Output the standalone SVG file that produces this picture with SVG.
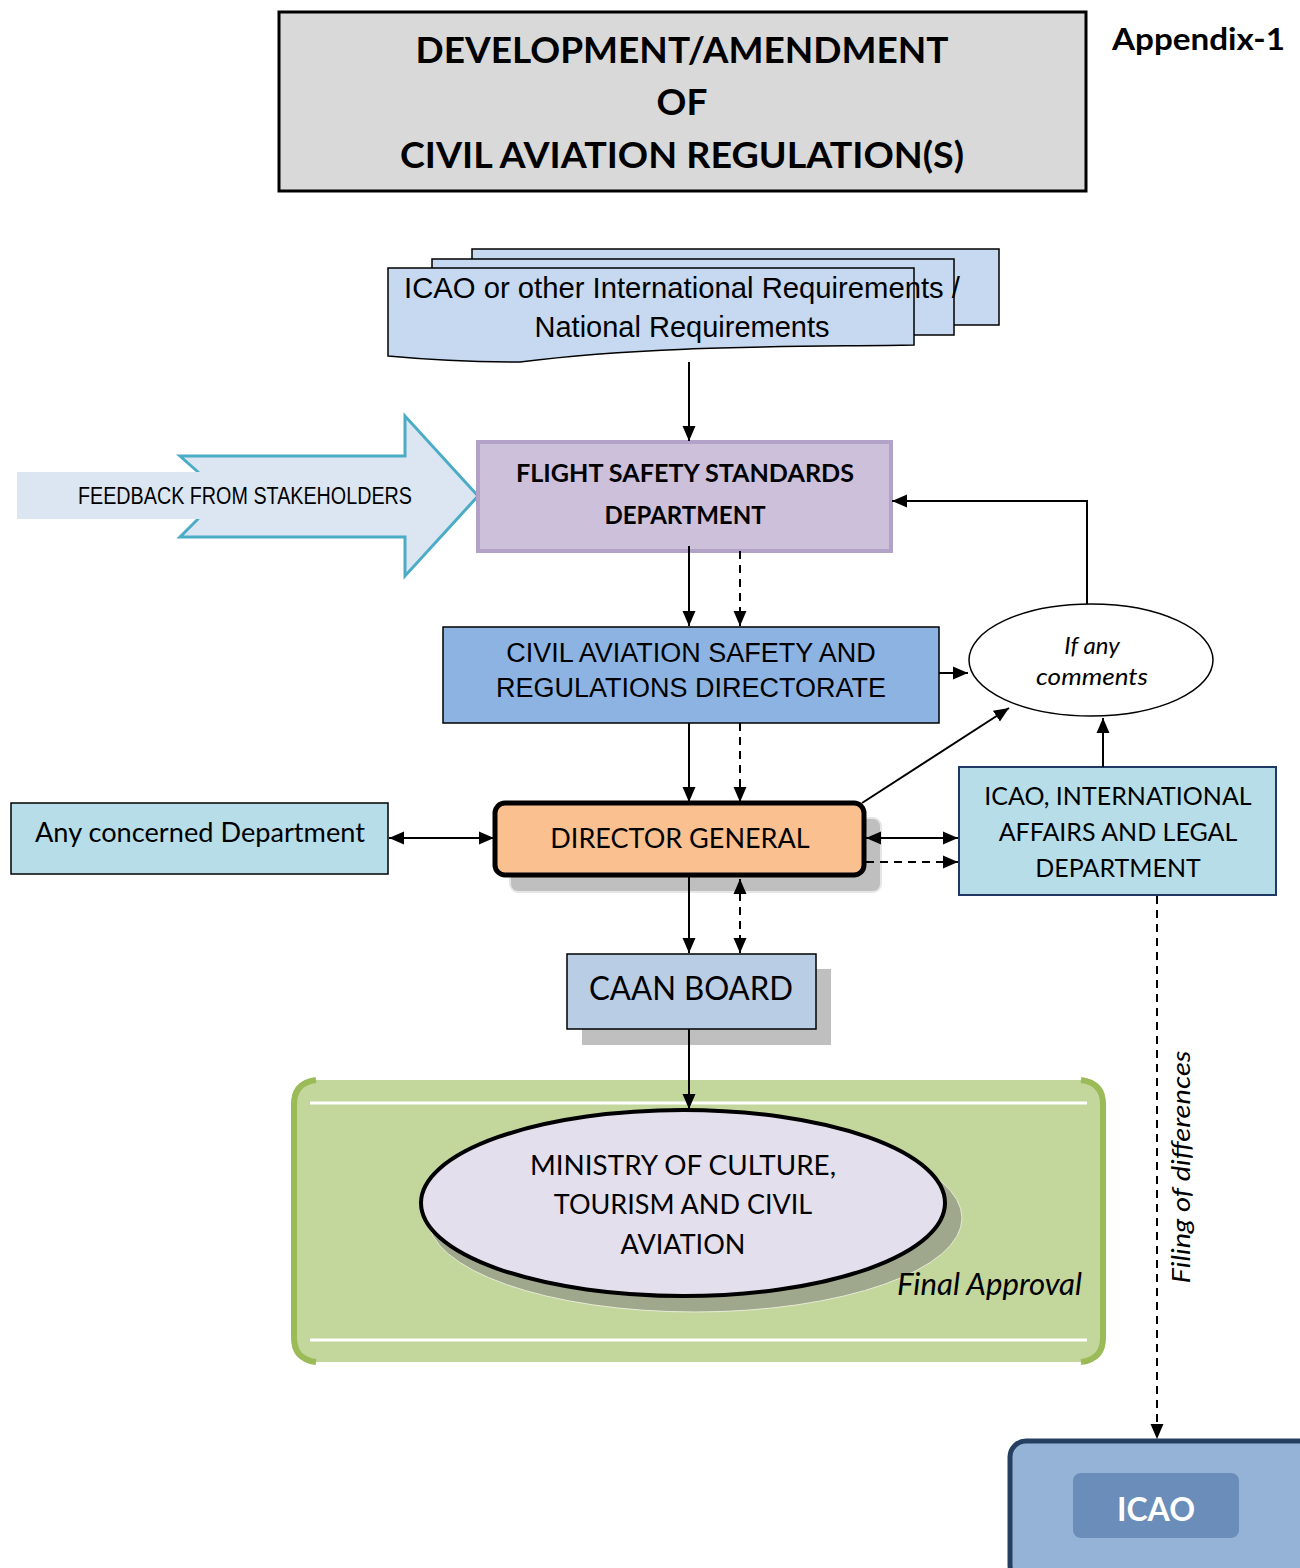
<svg xmlns="http://www.w3.org/2000/svg" width="1300" height="1568" viewBox="0 0 1300 1568">
<defs>
<marker id="ah" markerUnits="userSpaceOnUse" markerWidth="16" markerHeight="16" viewBox="0 0 16 16" refX="15" refY="8" orient="auto-start-reverse">
<path d="M0,1.5 L15,8 L0,14.5 Z" fill="#000"/>
</marker>
<style>
.cal{font-family:Lato,"Open Sans","DejaVu Sans",sans-serif;}
.ari{font-family:"Liberation Sans",Arial,sans-serif;}
.ln{stroke:#000;stroke-width:2;fill:none;}
.ds{stroke-dasharray:8,6;}
</style>
</defs>
<rect width="1300" height="1568" fill="#fff"/>

<g id="title">
<rect x="279" y="12" width="807" height="179" fill="#d9d9d9" stroke="#000" stroke-width="3"/>
<text class="cal" x="682" y="63" font-size="37" font-weight="bold" text-anchor="middle" textLength="533" lengthAdjust="spacingAndGlyphs">DEVELOPMENT/AMENDMENT</text>
<text class="cal" x="682" y="115" font-size="37" font-weight="bold" text-anchor="middle">OF</text>
<text class="cal" x="682" y="168" font-size="37" font-weight="bold" text-anchor="middle" textLength="564" lengthAdjust="spacingAndGlyphs">CIVIL AVIATION REGULATION(S)</text>
</g>
<g id="appendix">
<text class="cal" x="1112" y="50" font-size="31" font-weight="bold" textLength="173" lengthAdjust="spacingAndGlyphs">Appendix-1</text>
</g>

<g id="requirements">
<rect x="472" y="249" width="527" height="76" fill="#c6d9f1" stroke="#000" stroke-width="1.5"/>
<rect x="432" y="259" width="522" height="76" fill="#c6d9f1" stroke="#000" stroke-width="1.5"/>
<path d="M388,268 L914,268 L914,345 C800,347 650,345 520,362 C470,362 420,359 388,356 Z" fill="#c6d9f1" stroke="#000" stroke-width="1.5"/>
<text class="ari" x="682" y="298" font-size="29" text-anchor="middle" textLength="556" lengthAdjust="spacingAndGlyphs">ICAO or other International Requirements /</text>
<text class="ari" x="682" y="337" font-size="29" text-anchor="middle">National Requirements</text>
</g>

<g id="feedback">
<path d="M198,472 L180,456 L405,456 L405,416 L478,496 L405,576 L405,537 L180,537 L198,519 Z" fill="#dce6f2" stroke="#4bacc6" stroke-width="3"/>
<rect x="17" y="472" width="184" height="47" fill="#dce6f2"/>
<text class="ari" x="78" y="504" font-size="23" textLength="334" lengthAdjust="spacingAndGlyphs">FEEDBACK FROM STAKEHOLDERS</text>
</g>

<g id="fssd">
<rect x="478" y="442" width="413" height="109" fill="#ccc0da" stroke="#b3a2c7" stroke-width="4"/>
<text class="cal" x="685" y="482" font-size="24" font-weight="bold" text-anchor="middle" textLength="338" lengthAdjust="spacingAndGlyphs">FLIGHT SAFETY STANDARDS</text>
<text class="cal" x="685" y="524" font-size="24" font-weight="bold" text-anchor="middle">DEPARTMENT</text>
</g>

<g id="casrd">
<rect x="443" y="627" width="496" height="96" fill="#8db3e2" stroke="#000" stroke-width="1.5"/>
<text class="ari" x="691" y="662" font-size="27" text-anchor="middle">CIVIL AVIATION SAFETY AND</text>
<text class="ari" x="691" y="697" font-size="27" text-anchor="middle">REGULATIONS DIRECTORATE</text>
</g>

<g id="comments">
<ellipse cx="1091" cy="660" rx="122" ry="56" fill="#fff" stroke="#000" stroke-width="1.5"/>
<text class="cal" x="1092" y="654" font-size="24" font-style="italic" text-anchor="middle">If any</text>
<text class="cal" x="1092" y="685" font-size="24" font-style="italic" text-anchor="middle" textLength="112" lengthAdjust="spacingAndGlyphs">comments</text>
</g>

<g id="dg">
<rect x="510" y="818" width="371" height="74" rx="8" fill="#bfbfbf" stroke="#e6e6e6" stroke-width="2"/>
<rect x="495" y="803" width="369" height="72" rx="10" fill="#fac090" stroke="#000" stroke-width="5"/>
<text class="cal" x="680" y="848" font-size="27" text-anchor="middle">DIRECTOR GENERAL</text>
</g>

<g id="concerned">
<rect x="11" y="803" width="377" height="71" fill="#b7dde8" stroke="#000" stroke-width="1.5"/>
<text class="cal" x="200" y="842" font-size="27" text-anchor="middle" textLength="330" lengthAdjust="spacingAndGlyphs">Any concerned Department</text>
</g>

<g id="legal">
<rect x="959" y="767" width="317" height="128" fill="#b7dde8" stroke="#1f3864" stroke-width="2"/>
<text class="cal" x="1118" y="805" font-size="25" text-anchor="middle">ICAO, INTERNATIONAL</text>
<text class="cal" x="1118" y="841" font-size="25" text-anchor="middle">AFFAIRS AND LEGAL</text>
<text class="cal" x="1118" y="877" font-size="25" text-anchor="middle">DEPARTMENT</text>
</g>

<g id="board">
<rect x="582" y="969" width="249" height="76" fill="#bfbfbf"/>
<rect x="567" y="954" width="249" height="75" fill="#b9cde5" stroke="#000" stroke-width="1.5"/>
<text class="cal" x="691" y="1000" font-size="32" text-anchor="middle" textLength="204" lengthAdjust="spacingAndGlyphs">CAAN BOARD</text>
</g>

<g id="approval">
<rect x="292" y="1080" width="813" height="282" rx="18" fill="#c3d69b"/>
<path d="M316,1080 C300,1082 294,1092 294,1104 L294,1338 C294,1350 300,1360 316,1362" fill="none" stroke="#9bbb59" stroke-width="6"/>
<path d="M1081,1080 C1097,1082 1103,1092 1103,1104 L1103,1338 C1103,1350 1097,1360 1081,1362" fill="none" stroke="#9bbb59" stroke-width="6"/>
<line x1="310" y1="1103" x2="1087" y2="1103" stroke="#fff" stroke-width="3"/>
<line x1="310" y1="1340" x2="1087" y2="1340" stroke="#fff" stroke-width="3"/>
<ellipse cx="695" cy="1218" rx="267" ry="94" fill="#9fa88c" stroke="#e8ecd8" stroke-width="1"/>
<ellipse cx="683" cy="1203" rx="262" ry="93" fill="#e4dfec" stroke="#000" stroke-width="4"/>
<text class="cal" x="683" y="1175" font-size="27" text-anchor="middle" textLength="306" lengthAdjust="spacingAndGlyphs">MINISTRY OF CULTURE,</text>
<text class="cal" x="683" y="1214" font-size="27" text-anchor="middle">TOURISM AND CIVIL</text>
<text class="cal" x="683" y="1254" font-size="27" text-anchor="middle">AVIATION</text>
<text class="cal" x="1082" y="1295" font-size="30" font-style="italic" text-anchor="end" textLength="185" lengthAdjust="spacingAndGlyphs">Final Approval</text>
</g>

<g id="icao">
<rect x="1010" y="1441" width="305" height="140" rx="16" fill="#95b3d7" stroke="#243f60" stroke-width="5"/>
<rect x="1073" y="1473" width="166" height="65" rx="8" fill="#6a8db9"/>
<text class="cal" x="1156" y="1521" font-size="32" font-weight="bold" fill="#fff" text-anchor="middle">ICAO</text>
</g>

<g id="connectors">
<line class="ln" x1="689" y1="362" x2="689" y2="441" marker-end="url(#ah)"/>
<line class="ln" x1="689" y1="546" x2="689" y2="626" marker-end="url(#ah)"/>
<line class="ln ds" x1="740" y1="551" x2="740" y2="626" marker-end="url(#ah)"/>
<line class="ln" x1="939" y1="673" x2="968" y2="673" marker-end="url(#ah)"/>
<polyline class="ln" points="1087,604 1087,501 892,501" marker-end="url(#ah)"/>
<line class="ln" x1="689" y1="723" x2="689" y2="802" marker-end="url(#ah)"/>
<line class="ln ds" x1="740" y1="723" x2="740" y2="802" marker-end="url(#ah)"/>
<line class="ln" x1="862" y1="803" x2="1009" y2="708" marker-end="url(#ah)"/>
<line class="ln" x1="389" y1="838" x2="494" y2="838" marker-start="url(#ah)" marker-end="url(#ah)"/>
<line class="ln" x1="866" y1="838" x2="958" y2="838" marker-start="url(#ah)" marker-end="url(#ah)"/>
<line class="ln ds" x1="866" y1="862" x2="958" y2="862" marker-end="url(#ah)"/>
<line class="ln" x1="1103" y1="767" x2="1103" y2="718" marker-end="url(#ah)"/>
<line class="ln" x1="689" y1="877" x2="689" y2="953" marker-end="url(#ah)"/>
<line class="ln ds" x1="740" y1="879" x2="740" y2="953" marker-start="url(#ah)" marker-end="url(#ah)"/>
<line class="ln" x1="689" y1="1029" x2="689" y2="1109" marker-end="url(#ah)"/>
<line class="ln ds" x1="1157" y1="896" x2="1157" y2="1439" marker-end="url(#ah)"/>
<text class="cal" transform="translate(1190,1167) rotate(-90)" font-size="26" font-style="italic" text-anchor="middle" textLength="233" lengthAdjust="spacingAndGlyphs">Filing of differences</text>
</g>
</svg>
